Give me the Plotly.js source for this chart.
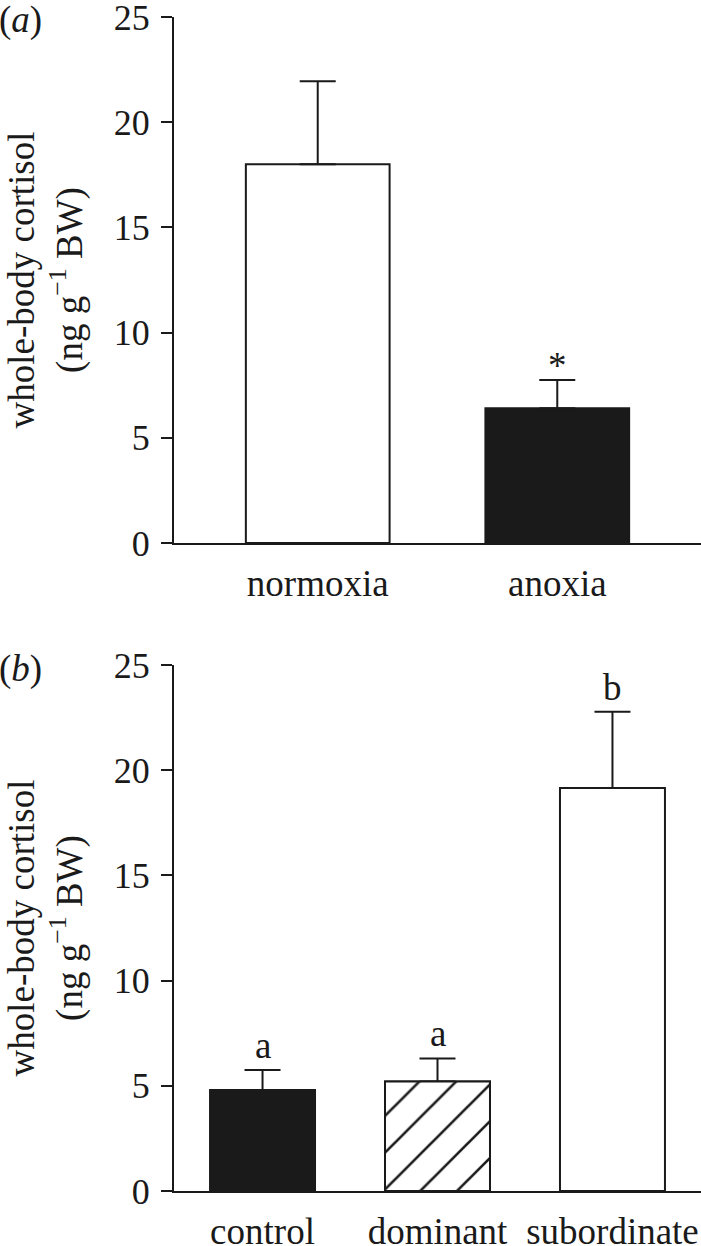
<!DOCTYPE html>
<html>
<head>
<meta charset="utf-8">
<script src="https://cdn.plot.ly/plotly-3.0.1.min.js"></script>
<style>
	html, body { margin: 0; padding: 0; background: #fff; }
	#plot { width: 701px; height: 1246px; }
</style>
</head>
<body>
<div id="plot"></div>
<script>
	'use strict';

	// panel (a): oxygen treatment
	const groupsA = ['normoxia', 'anoxia'];
	const meanA = [18.0, 6.4];
	const semA = [3.95, 1.35];
	const fillA = ['#ffffff', '#1a1a1a'];
	const marksA = ['', '*'];

	// panel (b): social status
	const groupsB = ['control', 'dominant', 'subordinate'];
	const meanB = [4.8, 5.2, 19.15];
	const semB = [0.95, 1.1, 3.63];
	const fillB = ['#1a1a1a', '#ffffff', '#ffffff'];
	const hatchB = [false, true, false];
	const marksB = ['a', 'a', 'b'];

	const yTicks = [0, 5, 10, 15, 20, 25];

	const ink = '#1a1a1a';
	const serif = 'Liberation Serif, Times New Roman, serif';
	const txt = (s) => ({ family: serif, size: s, color: ink });

	const bar = (x, y, err, fill, xa, ya) => ({
		type: 'bar',
		x: x,
		y: y,
		xaxis: xa,
		yaxis: ya,
		width: 0.6,
		marker: {
			color: fill,
			line: { color: ink, width: 2 }
		},
		error_y: {
			type: 'data',
			symmetric: false,
			array: err,
			arrayminus: err.map(() => 0),
			color: ink,
			thickness: 2,
			width: 18
		},
		hoverinfo: 'none',
		showlegend: false
	});

	// hatched bars drawn as an overlay with a scalar pattern
	const hatchX = groupsB.filter((g, i) => hatchB[i]);
	const hatchY = meanB.filter((v, i) => hatchB[i]);
	const hatched = {
		type: 'bar',
		x: hatchX,
		y: hatchY,
		xaxis: 'x2',
		yaxis: 'y2',
		width: 0.6,
		marker: {
			color: '#ffffff',
			line: { color: ink, width: 2 },
			pattern: { shape: '/', fgcolor: ink, bgcolor: '#ffffff', size: 26, solidity: 0.1, fillmode: 'replace' }
		},
		hoverinfo: 'none',
		showlegend: false
	};

	const data = [
		bar(groupsA, meanA, semA, fillA, 'x', 'y'),
		bar(groupsB, meanB, semB, fillB, 'x2', 'y2'),
		hatched
	];

	const xAxis = (cats, range, anchor) => ({
		type: 'category',
		categoryarray: cats,
		range: range,
		anchor: anchor,
		showline: true,
		linecolor: ink,
		linewidth: 2,
		ticks: '',
		showgrid: false,
		zeroline: false,
		ticklabelstandoff: 7,
		tickfont: txt(37)
	});

	const yAxis = (domain, anchor) => ({
		domain: domain,
		anchor: anchor,
		range: [0, 25],
		tickvals: yTicks,
		showline: true,
		linecolor: ink,
		linewidth: 2,
		ticks: 'outside',
		ticklen: 11,
		tickwidth: 2,
		tickcolor: ink,
		showgrid: false,
		zeroline: false,
		ticklabelstandoff: 4,
		ticklabeloverflow: 'allow',
		tickfont: txt(36),
		title: {
			text: 'whole-body cortisol<br>(ng g<sup>−1</sup> BW)',
			font: txt(37),
			standoff: 20
		}
	});

	// letters above the error bars
	const notes = [];
	groupsA.forEach((g, i) => {
		if (!marksA[i]) return;
		notes.push({ x: g, y: meanA[i] + semA[i], xref: 'x', yref: 'y', text: marksA[i],
			showarrow: false, yanchor: 'bottom', yshift: -8, font: txt(37) });
	});
	groupsB.forEach((g, i) => {
		notes.push({ x: g, y: meanB[i] + semB[i], xref: 'x2', yref: 'y2', text: marksB[i],
			showarrow: false, yanchor: 'bottom', yshift: 2, font: txt(37) });
	});
	// panel letters
	notes.push({ x: -0.335, y: 0.9975, xref: 'paper', yref: 'paper', text: '(<i>a</i>)', xanchor: 'left',
		yanchor: 'middle', showarrow: false, font: txt(37) });
	notes.push({ x: -0.335, y: 0.4446, xref: 'paper', yref: 'paper', text: '(<i>b</i>)', xanchor: 'left',
		yanchor: 'middle', showarrow: false, font: txt(37) });

	const layout = {
		width: 701,
		height: 1246,
		margin: { l: 174, r: 0, t: 17, b: 55 },
		paper_bgcolor: '#ffffff',
		plot_bgcolor: '#ffffff',
		font: txt(36),
		barmode: 'overlay',
		xaxis: xAxis(groupsA, [-0.6, 1.6], 'y'),
		yaxis: yAxis([0.552, 1], 'x'),
		xaxis2: xAxis(groupsB, [-0.506, 2.506], 'y2'),
		yaxis2: yAxis([0, 0.448], 'x2'),
		annotations: notes
	};

	Plotly.newPlot('plot', data, layout, { displayModeBar: false });
</script>
</body>
</html>
